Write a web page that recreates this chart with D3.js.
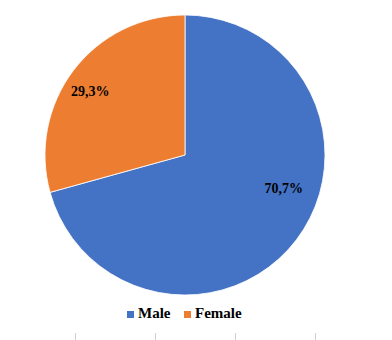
<!DOCTYPE html>
<html lang="en">
	<head>
		<meta charset="utf-8">
		<title>Gender pie</title>
		<script type="text/javascript" src="https://cdnjs.cloudflare.com/ajax/libs/d3/7.8.5/d3.min.js"></script>
		<style type="text/css">
			body { margin: 0; background: #fff; }
			text { font-family: "Liberation Serif", serif; font-weight: bold; fill: #000; }
		</style>
	</head>
	<body>
		<script type="text/javascript">
			var categories = ["Male", "Female"];
			var values = [70.7, 29.3];
			var labels = ["70,7%", "29,3%"];
			var colors = ["#4472C4", "#ED7D31"];

			//Width and height
			var w = 392;
			var h = 340;
			var cx = 185, cy = 155, r = 140;

			var svg = d3.select("body")
						.append("svg")
						.attr("width", w)
						.attr("height", h);

			var pie = d3.pie().sort(null).value(function(d) { return d; });
			var arcs = pie(values);
			var arc = d3.arc().innerRadius(0).outerRadius(r);

			var g = svg.append("g")
				.attr("transform", "translate(" + cx + "," + cy + ")");

			g.selectAll("path")
				.data(arcs)
				.enter()
				.append("path")
				.attr("d", arc)
				.attr("fill", function(d, i) { return colors[i]; })
				.attr("stroke", "#fff")
				.attr("stroke-width", 0.8);

			// label placement (excel "best fit"): radius and angle shift per slice
			var labelR = [104, 114];
			var labelShift = [-0.33, -0.06];
			g.selectAll("text.lbl")
				.data(arcs)
				.enter()
				.append("text")
				.attr("class", "lbl")
				.attr("text-anchor", "middle")
				.attr("dy", "0.35em")
				.attr("font-size", "14px")
				.attr("transform", function(d, i) {
					var a = (d.startAngle + d.endAngle) / 2 + labelShift[i];
					return "translate(" + (labelR[i] * Math.sin(a)) + "," + (-labelR[i] * Math.cos(a)) + ")";
				})
				.text(function(d, i) { return labels[i]; });

			//Legend
			var legend = svg.append("g").attr("transform", "translate(127,311)");
			var lx = [0, 57];
			var items = legend.selectAll("g")
				.data(categories)
				.enter()
				.append("g")
				.attr("transform", function(d, i) { return "translate(" + lx[i] + ",0)"; });
			items.append("rect")
				.attr("width", 7)
				.attr("height", 7)
				.attr("fill", function(d, i) { return colors[i]; });
			items.append("text")
				.attr("x", 11)
				.attr("y", 7)
				.attr("font-size", "15px")
				.text(function(d) { return d; });

			// faint table borders under the chart
			var tickScale = d3.scaleLinear().domain([0, 3]).range([75, 315]);
			svg.selectAll("line.tick")
				.data(d3.range(4))
				.enter()
				.append("line")
				.attr("class", "tick")
				.attr("x1", function(d) { return tickScale(d) + 0.5; })
				.attr("x2", function(d) { return tickScale(d) + 0.5; })
				.attr("y1", 333)
				.attr("y2", 340)
				.attr("stroke", "#d0d0d0")
				.attr("stroke-width", 1);
		</script>
	</body>
</html>
